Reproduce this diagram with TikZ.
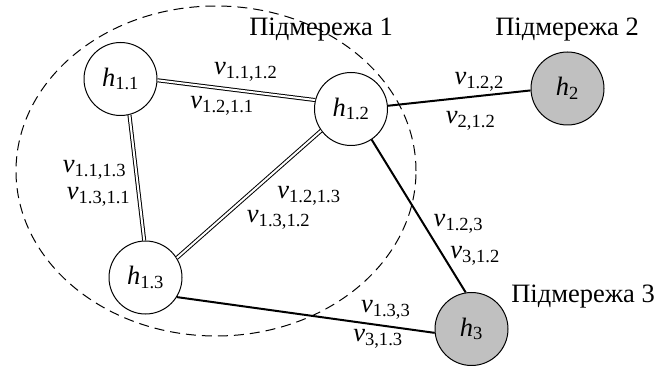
\documentclass[tikz,border=0pt]{standalone}
\usepackage{fontspec}
\setmainfont{Liberation Serif}
\usepackage[HTML]{xcolor}
\usepackage{tikz}
\usetikzlibrary{positioning}
\definecolor{hostgray}{HTML}{C0C0C0}
\newcommand{\hn}[1]{\textit{h}\textsubscript{#1}}
\newcommand{\vn}[1]{\textit{v}\textsubscript{#1}}

\begin{document}
\begin{tikzpicture}[x=1pt, y=-1pt,
  every node/.style={font=\fontsize{26.5}{30}\selectfont},
  host/.style={circle, draw, line width=1pt, minimum size=73pt, inner sep=0pt},
  far/.style={host, fill=hostgray},
  dbl/.style={double, double distance=2pt, line width=1pt},
  sgl/.style={line width=2pt}]
\useasboundingbox (0,0) rectangle (664,366);
\draw[dash pattern=on 10pt off 6pt, line width=1pt] (216,171) ellipse [x radius=200pt, y radius=165pt];

\node[host] (h11) at (120.5,79)    {\hn{1.1}};
\node[host] (h12) at (351,109)     {\hn{1.2}};
\node[host] (h13) at (145.5,277.5) {\hn{1.3}};
\node[far]  (h2)  at (567.5,88.5)  {\hn{2}};
\node[far]  (h3)  at (471.5,329)   {\hn{3}};

\node (net1) at (321,30)  {Підмережа 1};
\node (net2) at (567,30)  {Підмережа 2};
\node (net3) at (583,297) {Підмережа 3};

\draw[dbl] (h11.-2) -- node[pos=.56, above=6pt] (v1112) {\vn{1.1,1.2}}
  node[pos=.41, below=4pt] (v1211) {\vn{1.2,1.1}} (h12.166);
\draw[dbl] (h11.-76) -- node[pos=.44, left=6pt] (v1113) {\vn{1.1,1.3}}
  node[pos=.65, left=5pt] (v1311) {\vn{1.3,1.1}} (h13.92);
\draw[dbl] (h12.216) -- node[pos=.51, right=26pt] (v1213) {\vn{1.2,1.3}}
  node[pos=.70, right=23pt] (v1312) {\vn{1.3,1.2}} (h13.32);
\draw[sgl] (h12.5) -- node[pos=.64, above=0.5pt] (v122) {\vn{1.2,2}}
  node[pos=.58, below=10pt] (v212) {\vn{2,1.2}} (h2.183);
\draw[sgl] (h12.-56) -- node[pos=.55, right=6pt] (v123) {\vn{1.2,3}}
  node[pos=.76, right=3pt] (v312) {\vn{3,1.2}} (h3.99);
\draw[sgl] (h13.-32) -- node[pos=.81, above=2.5pt] (v133) {\vn{1.3,3}}
  node[pos=.78, below=0pt] (v313) {\vn{3,1.3}} (h3.186);
\end{tikzpicture}
\end{document}
